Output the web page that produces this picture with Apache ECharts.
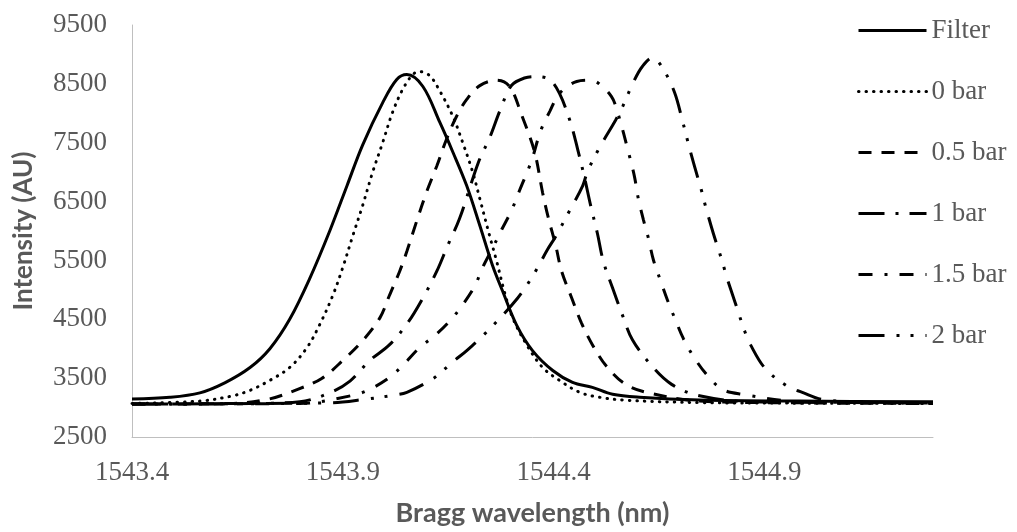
<!DOCTYPE html>
<html>
<head>
<meta charset="utf-8">
<script src="https://cdn.jsdelivr.net/npm/echarts@6/dist/echarts.min.js"></script>
<style>
  html, body { margin: 0; padding: 0; background: #fff; }
  #chart { width: 1017px; height: 532px; }
</style>
</head>
<body>
<div id="chart"></div>
<script>
// wavelength (nm), intensity (AU)
const filter = [[1543.400,3146],[1543.490,3175],[1543.561,3250],[1543.620,3420],[1543.680,3680],[1543.727,4000],[1543.774,4500],[1543.822,5200],[1543.869,6000],[1543.910,6770],[1543.947,7460],[1543.995,8185],[1544.028,8573],[1544.052,8658],[1544.090,8455],[1544.130,7848],[1544.161,7342],[1544.194,6768],[1544.225,6093],[1544.255,5419],[1544.279,4980],[1544.312,4406],[1544.350,3968],[1544.398,3630],[1544.445,3428],[1544.492,3344],[1544.540,3225],[1544.604,3175],[1544.746,3130],[1544.983,3110],[1545.300,3100]];

const bar0 = [[1543.400,3070],[1543.561,3110],[1543.639,3200],[1543.680,3293],[1543.727,3462],[1543.774,3681],[1543.815,4018],[1543.845,4406],[1543.876,4900],[1543.900,5380],[1543.924,5925],[1543.947,6431],[1543.971,7004],[1543.995,7510],[1544.018,8016],[1544.042,8405],[1544.066,8658],[1544.082,8708],[1544.106,8640],[1544.130,8380],[1544.161,7949],[1544.184,7510],[1544.208,7004],[1544.225,6549],[1544.248,5925],[1544.265,5486],[1544.284,4950],[1544.303,4524],[1544.336,4069],[1544.374,3681],[1544.414,3462],[1544.462,3259],[1544.509,3175],[1544.573,3124],[1544.746,3085],[1544.983,3075],[1545.300,3070]];

const bar05 = [[1543.400,3060],[1543.632,3070],[1543.722,3140],[1543.793,3310],[1543.850,3495],[1543.900,3800],[1543.947,4136],[1543.988,4524],[1544.011,4912],[1544.035,5317],[1544.052,5655],[1544.075,6161],[1544.099,6667],[1544.123,7105],[1544.146,7560],[1544.170,7950],[1544.194,8236],[1544.225,8470],[1544.265,8560],[1544.296,8450],[1544.324,7975],[1544.355,7342],[1544.374,6650],[1544.388,6211],[1544.405,5756],[1544.419,5317],[1544.443,4862],[1544.466,4440],[1544.492,4069],[1544.526,3698],[1544.571,3394],[1544.630,3242],[1544.746,3110],[1544.983,3080],[1545.300,3070]];

const bar1 = [[1543.400,3060],[1543.680,3070],[1543.798,3100],[1543.869,3250],[1543.917,3450],[1543.964,3800],[1544.011,4069],[1544.054,4440],[1544.090,4862],[1544.123,5317],[1544.149,5756],[1544.177,6211],[1544.222,7173],[1544.248,7578],[1544.274,8067],[1544.300,8472],[1544.331,8600],[1544.360,8624],[1544.391,8570],[1544.414,8337],[1544.440,7848],[1544.457,7393],[1544.473,6920],[1544.488,6431],[1544.504,5958],[1544.518,5486],[1544.540,5030],[1544.564,4558],[1544.587,4153],[1544.632,3715],[1544.680,3394],[1544.741,3208],[1544.864,3100],[1545.101,3085],[1545.300,3075]];

const bar15 = [[1543.400,3060],[1543.798,3070],[1543.924,3208],[1543.964,3310],[1544.011,3512],[1544.042,3715],[1544.082,4018],[1544.118,4221],[1544.154,4474],[1544.184,4744],[1544.213,5064],[1544.232,5385],[1544.255,5705],[1544.277,6025],[1544.300,6346],[1544.319,6684],[1544.348,7200],[1544.369,7696],[1544.391,8033],[1544.414,8337],[1544.455,8540],[1544.485,8560],[1544.504,8523],[1544.537,8286],[1544.552,8016],[1544.580,7274],[1544.592,6920],[1544.601,6549],[1544.613,6194],[1544.625,5874],[1544.637,5503],[1544.654,5149],[1544.670,4828],[1544.689,4491],[1544.708,4170],[1544.732,3866],[1544.763,3562],[1544.800,3310],[1544.848,3225],[1544.983,3100],[1545.300,3080]];

const bar2 = [[1543.400,3060],[1543.869,3080],[1543.952,3140],[1544.018,3208],[1544.052,3259],[1544.111,3478],[1544.135,3613],[1544.165,3800],[1544.194,3968],[1544.244,4305],[1544.315,4862],[1544.353,5267],[1544.386,5689],[1544.405,5908],[1544.438,6346],[1544.469,6768],[1544.481,7021],[1544.511,7443],[1544.547,7882],[1544.564,8118],[1544.590,8540],[1544.611,8800],[1544.635,8944],[1544.658,8776],[1544.687,8354],[1544.706,7865],[1544.715,7612],[1544.732,7156],[1544.751,6684],[1544.760,6431],[1544.779,5958],[1544.800,5486],[1544.810,5233],[1544.831,4778],[1544.853,4305],[1544.867,4069],[1544.902,3664],[1544.955,3360],[1544.990,3259],[1545.037,3140],[1545.149,3090],[1545.300,3080]];

const seriesNames = ['Filter', '0 bar', '0.5 bar', '1 bar', '1.5 bar', '2 bar'];

const chart = echarts.init(document.getElementById('chart'));

const grey = '#595959';
const axisGrey = '#bfbfbf';

const makeLine = (name, data, dash, cap) => ({
  name: name,
  type: 'line',
  data: data,
  symbol: 'none',
  smooth: 0.35,
  itemStyle: { color: 'transparent' },
  lineStyle: { color: '#000', width: 3, type: dash, cap: cap || 'butt' }
});

const option = {
  animation: false,
  grid: { left: 132, right: 84, top: 25, bottom: 92 },
  legend: {
    orient: 'vertical',
    left: 857,
    top: 17,
    padding: 0,
    itemWidth: 68,
    itemHeight: 20,
    itemGap: 34,
    data: seriesNames,
    itemStyle: { color: 'transparent', borderColor: 'transparent', borderWidth: 0 },
    lineStyle: { color: '#000', width: 3 },
    textStyle: { fontFamily: 'Liberation Serif', fontSize: 27, color: grey }
  },
  xAxis: {
    type: 'value',
    min: 1543.4,
    max: 1545.3,
    interval: 0.1,
    name: 'Bragg wavelength (nm)',
    nameLocation: 'middle',
    nameGap: 63,
    nameTextStyle: { fontFamily: 'Lato', fontWeight: 'bold', fontSize: 27, color: grey },
    axisLine: { lineStyle: { color: axisGrey, width: 1 } },
    axisTick: { show: false },
    splitLine: { show: false },
    axisLabel: {
      margin: 22,
      fontFamily: 'Liberation Serif',
      fontSize: 27,
      color: grey,
      formatter: v => (Math.round(v * 10) % 5 === 4 ? v.toFixed(1) : '')
    }
  },
  yAxis: {
    type: 'value',
    min: 2500,
    max: 9500,
    interval: 500,
    name: 'Intensity (AU)',
    nameLocation: 'middle',
    nameGap: 95,
    nameTextStyle: { fontFamily: 'Lato', fontWeight: 'bold', fontSize: 26, color: grey },
    axisLine: { show: true, lineStyle: { color: axisGrey, width: 1 } },
    axisTick: { show: false },
    splitLine: { show: false },
    axisLabel: {
      margin: 25,
      fontFamily: 'Liberation Serif',
      fontSize: 27,
      color: grey,
      formatter: v => (v % 1000 === 500 ? String(v) : '')
    }
  },
  series: [
    makeLine(seriesNames[0], filter, 'solid'),
    makeLine(seriesNames[1], bar0, [0.5, 7], 'round'),
    makeLine(seriesNames[2], bar05, [13, 10]),
    makeLine(seriesNames[3], bar1, [26, 11, 3, 11]),
    makeLine(seriesNames[4], bar15, [14, 12, 3, 12]),
    makeLine(seriesNames[5], bar2, [26, 12, 3, 11, 3, 12])
  ]
};

chart.setOption(option);
</script>
</body>
</html>
